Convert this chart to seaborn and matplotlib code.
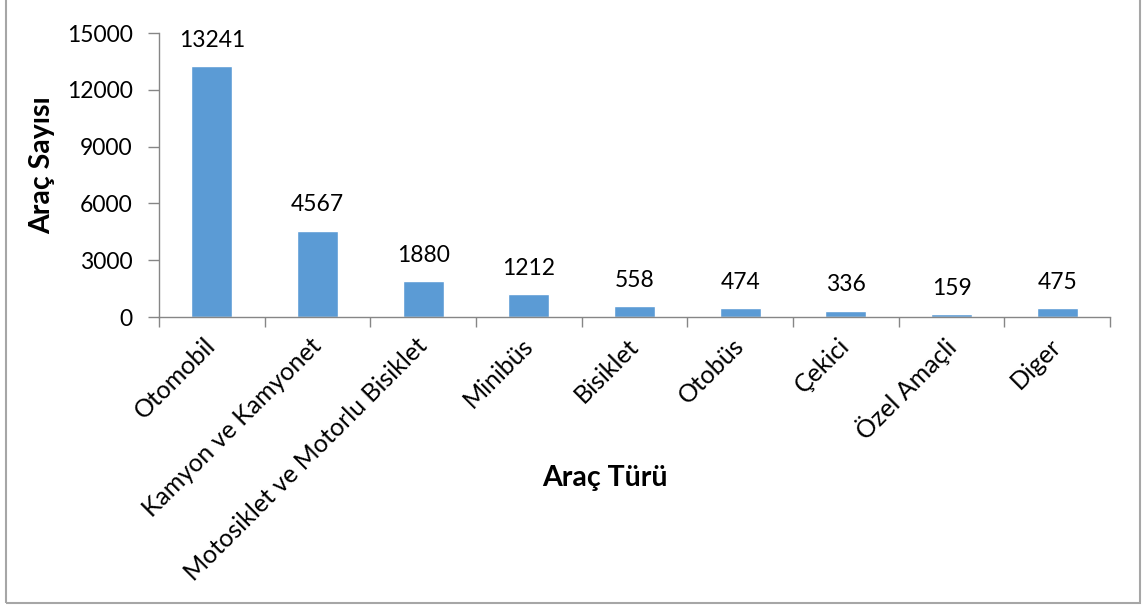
import matplotlib
matplotlib.use("Agg")
import matplotlib.pyplot as plt
import matplotlib.patches as mpatches
import numpy as np
import pandas as pd
import seaborn as sns

# values
categories = ["Otomobil", "Kamyon ve Kamyonet", "Motosiklet ve Motorlu Bisiklet",
              "Minibüs", "Bisiklet", "Otobüs", "Çekici", "Özel Amaçli", "Diger"]
counts = [13241, 4567, 1880, 1212, 558, 474, 336, 159, 475]
yticks = [0, 3000, 6000, 9000, 12000, 15000]

df = pd.DataFrame({"tur": categories, "sayi": counts})

sns.set_theme(style="white")
plt.rcParams["font.family"] = ["Lato", "DejaVu Sans"]

axis_grey = "#868686"
bar_blue = "#5B9BD5"

fig = plt.figure(figsize=(11.44, 6.08), dpi=100)
ax = fig.add_axes([159 / 1144, 1 - 317 / 608, (1110 - 159) / 1144, (317 - 33) / 608])

sns.barplot(data=df, x="tur", y="sayi", color=bar_blue, width=0.39,
            saturation=1, ax=ax)

ax.set_xlim(-0.5, len(categories) - 0.5)
ax.set_ylim(0, 15000)
ax.set_yticks(yticks)
ax.set_yticklabels([str(t) for t in yticks], fontsize=16.5, color="black")

# value labels above each bar
for i, v in enumerate(counts):
    ax.annotate(str(v), (i, v), xytext=(0, 14), textcoords="offset points",
                ha="center", va="baseline", fontsize=16.5, color="black")

ax.set_xticks(range(len(categories)))
ax.set_xticklabels(categories, rotation=45, ha="right", va="center",
                   rotation_mode="anchor", fontsize=18, color="black")
ax.tick_params(axis="x", length=0, pad=18)
ax.set_xticks(np.arange(-0.5, len(categories)), minor=True)
ax.tick_params(axis="x", which="minor", length=7, width=1, color=axis_grey,
               bottom=True)
ax.tick_params(axis="y", length=8, width=1, color=axis_grey, left=True, pad=11)

for side in ["top", "right"]:
    ax.spines[side].set_visible(False)
for side in ["left", "bottom"]:
    ax.spines[side].set_color(axis_grey)
    ax.spines[side].set_linewidth(1)

ax.set_xlabel("Araç Türü", fontsize=20.5, fontweight="bold", color="black")
ax.xaxis.set_label_coords((605 - 159) / 951, (317 - 478) / 284)
ax.xaxis.label.set_va("center")
ax.set_ylabel("Araç Sayısı", fontsize=20.5, fontweight="bold", color="black")
ax.yaxis.set_label_coords((42 - 159) / 951, (317 - 165) / 284)
ax.yaxis.label.set_va("center")

# outer chart border
border = mpatches.Rectangle((6 / 1144, 5 / 608), (1140 - 6) / 1144, 1.0,
                            transform=fig.transFigure, fill=False,
                            edgecolor="#A6A6A6", linewidth=1.5, clip_on=False)
fig.patches.append(border)

fig.savefig("out.png", dpi=100)
